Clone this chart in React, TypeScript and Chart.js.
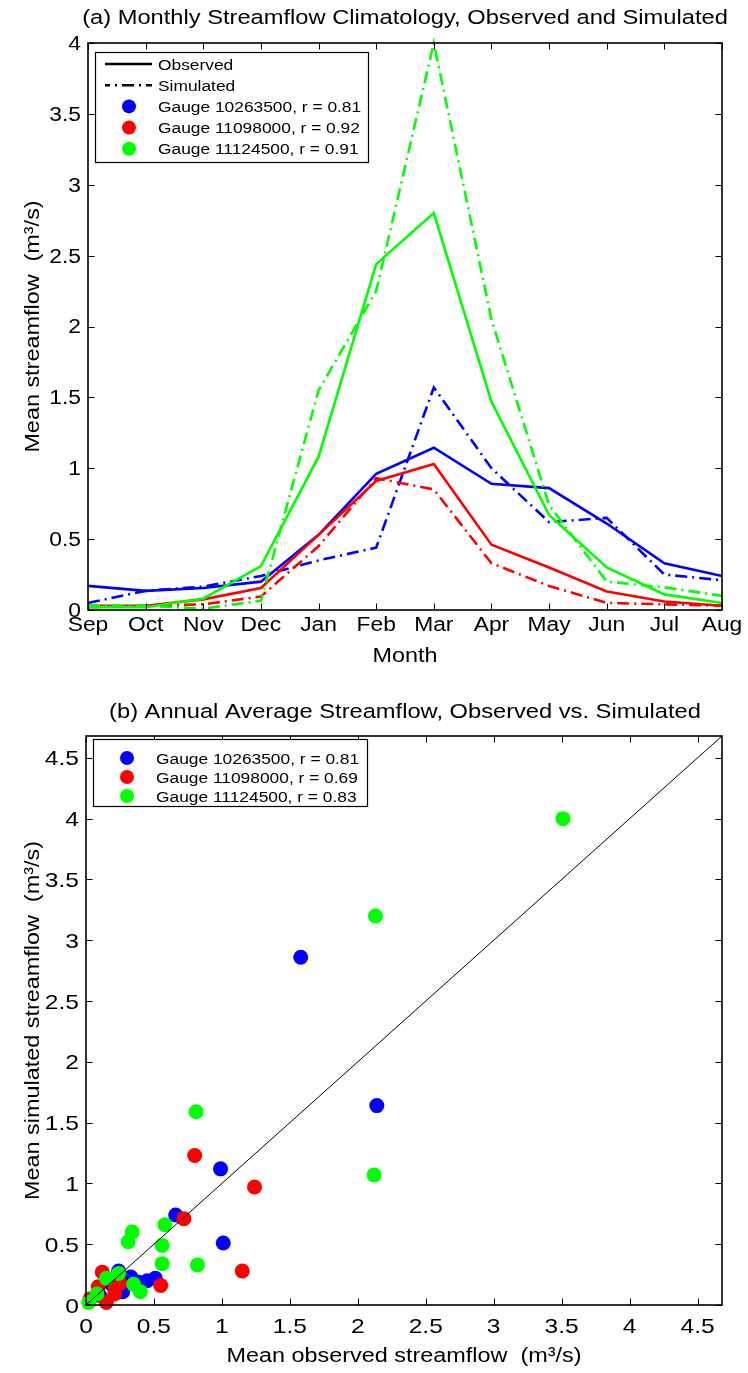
import React, { useEffect, useRef } from "react";
import { Chart, registerables } from "chart.js";
Chart.register(...registerables);

// ---------- data: (a) monthly climatology ----------
const months = ["Sep", "Oct", "Nov", "Dec", "Jan", "Feb", "Mar", "Apr", "May", "Jun", "Jul", "Aug"];
const obs10263500 = [0.17, 0.135, 0.155, 0.2, 0.53, 0.96, 1.145, 0.89, 0.86, 0.61, 0.33, 0.24];
const sim10263500 = [0.05, 0.135, 0.165, 0.24, 0.35, 0.44, 1.57, 1.0, 0.62, 0.65, 0.25, 0.21];
const obs11098000 = [0.03, 0.03, 0.075, 0.155, 0.53, 0.91, 1.03, 0.46, 0.3, 0.13, 0.06, 0.03];
const sim11098000 = [0.02, 0.03, 0.04, 0.095, 0.45, 0.93, 0.85, 0.33, 0.17, 0.05, 0.04, 0.03];
const obs11124500 = [0.02, 0.02, 0.08, 0.31, 1.08, 2.44, 2.8, 1.47, 0.67, 0.3, 0.11, 0.05];
const sim11124500 = [0.03, 0.03, 0.01, 0.065, 1.55, 2.25, 4.0, 2.05, 0.74, 0.2, 0.16, 0.1];
const yTickLabelsA = ["0", "0.5", "1", "1.5", "2", "2.5", "3", "3.5", "4"];

const gaugeNames = ["Gauge 10263500", "Gauge 11098000", "Gauge 11124500"];
const rMonthly = ["0.81", "0.92", "0.91"];
const rAnnual = ["0.81", "0.69", "0.83"];
const gaugeColors = ["#0000ff", "#ff0000", "#00ff00"];

// ---------- data: (b) annual average scatter ----------
const blueObs = [1.58, 2.14, 0.99, 1.01, 0.66, 0.24, 0.27, 0.33, 0.38, 0.45, 0.51, 0.19, 0.1];
const blueSim = [2.86, 1.64, 1.12, 0.51, 0.74, 0.28, 0.11, 0.23, 0.19, 0.2, 0.22, 0.17, 0.08];
const redObs = [0.8, 1.24, 0.72, 1.15, 0.55, 0.12, 0.2, 0.15, 0.21, 0.25, 0.09, 0.03];
const redSim = [1.23, 0.97, 0.71, 0.28, 0.16, 0.27, 0.18, 0.02, 0.09, 0.18, 0.15, 0.05];
const greenObs = [3.51, 2.13, 2.12, 0.81, 0.58, 0.34, 0.31, 0.56, 0.82, 0.56, 0.35, 0.4, 0.24, 0.15, 0.08, 0.02];
const greenSim = [4.0, 3.2, 1.07, 1.59, 0.66, 0.6, 0.52, 0.49, 0.33, 0.34, 0.17, 0.11, 0.26, 0.22, 0.09, 0.02];
const tickLabelsB = ["0", "0.5", "1", "1.5", "2", "2.5", "3", "3.5", "4", "4.5"];
const axisMaxB = 4.68;

const FONT = '"Liberation Sans", Arial, Helvetica, sans-serif';
const DASHDOT = [12, 5, 2, 5];

function drawText(ctx: any, s: string, x: number, y: number, size: number, o: any = {}) {
  const { align = "center", baseline = "alphabetic", sx = 1.17, rot = 0 } = o;
  ctx.save();
  ctx.translate(x, y);
  if (rot) ctx.rotate(rot);
  ctx.scale(sx, 1);
  ctx.font = `${size}px ${FONT}`;
  ctx.textAlign = align;
  ctx.textBaseline = baseline;
  ctx.fillStyle = "#000";
  ctx.fillText(s, 0, 0);
  ctx.restore();
}

function seg(ctx: any, x1: number, y1: number, x2: number, y2: number) {
  ctx.beginPath();
  ctx.moveTo(x1, y1);
  ctx.lineTo(x2, y2);
  ctx.stroke();
}

function makeAxesPlugin(cfg: any) {
  return {
    id: "matlabAxes",
    afterDatasetsDraw(chart: any) {
      const { ctx, chartArea: a } = chart;
      const xs = chart.scales.x;
      const ys = chart.scales.y;
      ctx.save();
      ctx.setLineDash([]);
      ctx.strokeStyle = "#000";
      ctx.lineWidth = 1;
      const L = 6.5;
      xs.ticks.forEach((_t: any, i: number) => {
        const px = Math.round(xs.getPixelForTick(i)) + 0.5;
        seg(ctx, px, a.bottom, px, a.bottom - L);
        seg(ctx, px, a.top, px, a.top + L);
      });
      ys.ticks.forEach((_t: any, i: number) => {
        const py = Math.round(ys.getPixelForTick(i)) + 0.5;
        seg(ctx, a.left, py, a.left + L, py);
        seg(ctx, a.right, py, a.right - L, py);
      });
      ctx.lineWidth = 1.6;
      ctx.strokeRect(a.left, a.top, a.right - a.left, a.bottom - a.top);
      ctx.restore();
    },
    afterDraw(chart: any) {
      const { ctx, chartArea: a } = chart;
      const xs = chart.scales.x;
      const ys = chart.scales.y;
      // tick labels
      xs.ticks.forEach((_t: any, i: number) => {
        drawText(ctx, cfg.xLabels[i], xs.getPixelForTick(i), a.bottom + cfg.xLabelDy, cfg.tickSize);
      });
      ys.ticks.forEach((_t: any, i: number) => {
        drawText(ctx, cfg.yLabels[i], a.left - 7, ys.getPixelForTick(i) + cfg.tickSize * 0.358, cfg.tickSize, { align: "right" });
      });
      // titles
      drawText(ctx, cfg.title, cfg.titleX, cfg.titleY, cfg.titleSize, { sx: 1.155 });
      drawText(ctx, cfg.xTitle, (a.left + a.right) / 2, a.bottom + cfg.xTitleDy, cfg.axisTitleSize);
      drawText(ctx, cfg.yTitle, 33, (a.top + a.bottom) / 2, cfg.axisTitleSize, { rot: -Math.PI / 2, baseline: "middle" });
      // legend
      const lg = cfg.legend;
      ctx.save();
      ctx.fillStyle = "#fff";
      ctx.fillRect(lg.x, lg.y, lg.w, lg.h);
      ctx.strokeStyle = "#000";
      ctx.lineWidth = 1.2;
      ctx.setLineDash([]);
      ctx.strokeRect(lg.x + 0.5, lg.y + 0.5, lg.w, lg.h);
      lg.rows.forEach((r: any, i: number) => {
        const cy = lg.y + lg.firstDy + i * lg.rowH;
        if (r.kind === "line" || r.kind === "dash") {
          ctx.strokeStyle = "#000";
          ctx.lineWidth = 2.5;
          ctx.setLineDash(r.kind === "dash" ? DASHDOT : []);
          ctx.lineDashOffset = r.kind === "dash" ? 7 : 0;
          seg(ctx, lg.x + 10, cy, lg.x + 57, cy);
          ctx.setLineDash([]);
        } else {
          ctx.fillStyle = r.color;
          ctx.beginPath();
          ctx.arc(lg.x + 34, cy, 7, 0, Math.PI * 2);
          ctx.fill();
        }
        drawText(ctx, r.text, lg.x + 63, cy + 5.6, 15.5, { align: "left", sx: 1.12 });
      });
      ctx.restore();
    },
  };
}

function buildChartA(canvas: HTMLCanvasElement) {
  const obs = [obs10263500, obs11098000, obs11124500];
  const sim = [sim10263500, sim11098000, sim11124500];
  const datasets: any[] = [];
  for (let g = 0; g < 3; g++) {
    datasets.push({
      label: gaugeNames[g] + " observed",
      data: obs[g],
      borderColor: gaugeColors[g],
      borderWidth: 2.6,
      pointRadius: 0,
      fill: false,
      tension: 0,
      clip: false,
      order: 10 - g * 2,
    });
    datasets.push({
      label: gaugeNames[g] + " simulated",
      data: sim[g],
      borderColor: gaugeColors[g],
      borderWidth: 2.6,
      borderDash: DASHDOT,
      pointRadius: 0,
      fill: false,
      tension: 0,
      clip: false,
      order: 9 - g * 2,
    });
  }
  const yVals = yTickLabelsA.map(Number);
  const plugin = makeAxesPlugin({
    xLabels: months,
    yLabels: yTickLabelsA,
    tickSize: 19.5,
    xLabelDy: 21,
    title: "(a) Monthly Streamflow Climatology, Observed and Simulated",
    titleX: 405,
    titleY: 24,
    titleSize: 20.5,
    xTitle: "Month",
    xTitleDy: 52,
    yTitle: "Mean streamflow  (m³/s)",
    axisTitleSize: 20,
    legend: {
      x: 95,
      y: 52,
      w: 273,
      h: 110,
      firstDy: 12,
      rowH: 21.2,
      rows: [
        { kind: "line", text: "Observed" },
        { kind: "dash", text: "Simulated" },
        ...gaugeNames.map((n, i) => ({ kind: "dot", color: gaugeColors[i], text: `${n}, r = ${rMonthly[i]}` })),
      ],
    },
  });
  return new Chart(canvas, {
    type: "line",
    data: { labels: months, datasets },
    options: {
      animation: false,
      responsive: false,
      devicePixelRatio: 1,
      events: [],
      layout: { padding: { top: 43, right: 26, left: 0, bottom: 0 } },
      plugins: { legend: { display: false }, tooltip: { enabled: false }, title: { display: false } },
      scales: {
        x: {
          type: "category",
          offset: false,
          grid: { display: false },
          border: { display: false },
          ticks: { display: false },
          afterFit: (s: any) => {
            s.height = 70;
          },
        },
        y: {
          type: "linear",
          min: 0,
          max: 4,
          grid: { display: false },
          border: { display: false },
          ticks: { display: false },
          afterBuildTicks: (s: any) => {
            s.ticks = yVals.map((v) => ({ value: v }));
          },
          afterFit: (s: any) => {
            s.width = 88;
          },
        },
      },
    },
    plugins: [plugin],
  } as any);
}

function buildChartB(canvas: HTMLCanvasElement) {
  const toPts = (xs: number[], ys: number[]) => xs.map((x, i) => ({ x, y: ys[i] }));
  const tickVals = tickLabelsB.map(Number);
  const datasets: any[] = [
    {
      type: "line",
      label: "1:1",
      data: [
        { x: 0, y: 0 },
        { x: axisMaxB, y: axisMaxB },
      ],
      borderColor: "#000",
      borderWidth: 1,
      pointRadius: 0,
      showLine: true,
      fill: false,
      clip: false,
      order: 0,
    },
    {
      type: "scatter",
      label: gaugeNames[2],
      data: toPts(greenObs, greenSim),
      backgroundColor: gaugeColors[2],
      borderColor: gaugeColors[2],
      borderWidth: 0,
      pointRadius: 7.5,
      clip: false,
      order: 1,
    },
    {
      type: "scatter",
      label: gaugeNames[1],
      data: toPts(redObs, redSim),
      backgroundColor: gaugeColors[1],
      borderColor: gaugeColors[1],
      borderWidth: 0,
      pointRadius: 7.5,
      clip: false,
      order: 2,
    },
    {
      type: "scatter",
      label: gaugeNames[0],
      data: toPts(blueObs, blueSim),
      backgroundColor: gaugeColors[0],
      borderColor: gaugeColors[0],
      borderWidth: 0,
      pointRadius: 7.5,
      clip: false,
      order: 3,
    },
  ];
  const plugin = makeAxesPlugin({
    xLabels: tickLabelsB,
    yLabels: tickLabelsB,
    tickSize: 21,
    xLabelDy: 28,
    title: "(b) Annual Average Streamflow, Observed vs. Simulated",
    titleX: 405,
    titleY: 38,
    titleSize: 20.5,
    xTitle: "Mean observed streamflow  (m³/s)",
    xTitleDy: 57,
    yTitle: "Mean simulated streamflow  (m³/s)",
    axisTitleSize: 20,
    legend: {
      x: 93,
      y: 59,
      w: 274,
      h: 67,
      firstDy: 19,
      rowH: 19,
      rows: gaugeNames.map((n, i) => ({ kind: "dot", color: gaugeColors[i], text: `${n}, r = ${rAnnual[i]}` })),
    },
  });
  const axis = (extra: any) => ({
    type: "linear",
    min: 0,
    max: axisMaxB,
    grid: { display: false },
    border: { display: false },
    ticks: { display: false },
    afterBuildTicks: (s: any) => {
      s.ticks = tickVals.map((v) => ({ value: v }));
    },
    ...extra,
  });
  return new Chart(canvas, {
    type: "scatter",
    data: { datasets },
    options: {
      animation: false,
      responsive: false,
      devicePixelRatio: 1,
      events: [],
      layout: { padding: { top: 56, right: 26, left: 0, bottom: 0 } },
      plugins: { legend: { display: false }, tooltip: { enabled: false }, title: { display: false } },
      scales: {
        x: axis({
          position: "bottom",
          afterFit: (s: any) => {
            s.height = 68;
          },
        }),
        y: axis({
          position: "left",
          afterFit: (s: any) => {
            s.width = 86;
          },
        }),
      },
    },
    plugins: [plugin],
  } as any);
}

export default function App() {
  const refA = useRef<HTMLCanvasElement | null>(null);
  const refB = useRef<HTMLCanvasElement | null>(null);
  useEffect(() => {
    const a = buildChartA(refA.current as HTMLCanvasElement);
    const b = buildChartB(refB.current as HTMLCanvasElement);
    return () => {
      a.destroy();
      b.destroy();
    };
  }, []);
  return (
    <div style={{ position: "absolute", left: 0, top: 0, width: 748, height: 1373, background: "#fff" }}>
      <canvas ref={refA} width={748} height={680} style={{ position: "absolute", left: 0, top: 0, width: 748, height: 680 }} />
      <canvas ref={refB} width={748} height={693} style={{ position: "absolute", left: 0, top: 680, width: 748, height: 693 }} />
    </div>
  );
}
